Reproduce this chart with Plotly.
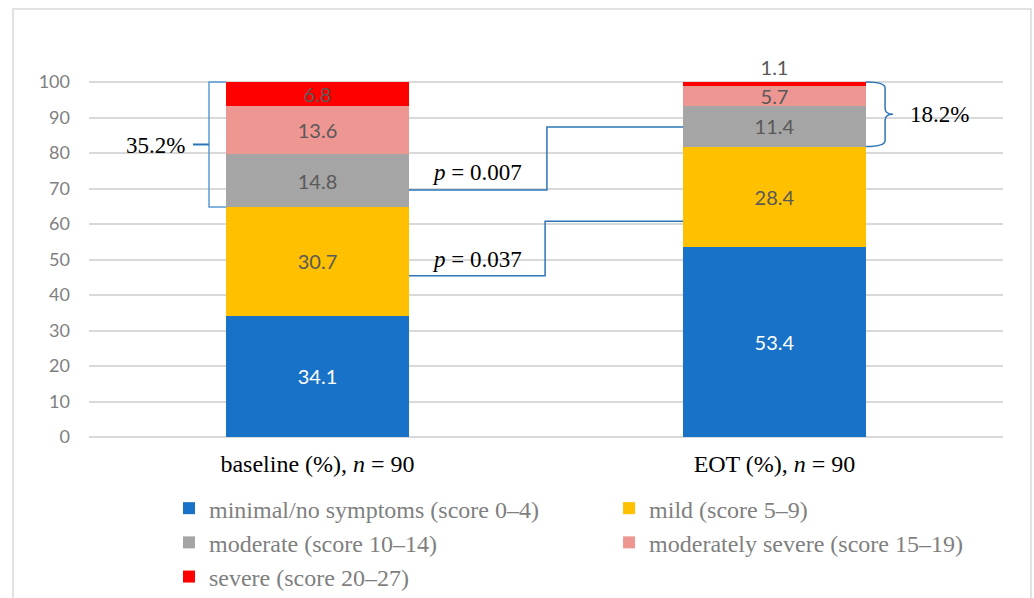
import plotly.graph_objects as go

# PHQ-9 severity distribution at baseline and end of treatment (EOT)
categories = ["baseline (%), <i>n</i> = 90", "EOT (%), <i>n</i> = 90"]
severity_labels = [
    "minimal/no symptoms (score 0–4)",
    "mild (score 5–9)",
    "moderate (score 10–14)",
    "moderately severe (score 15–19)",
    "severe (score 20–27)",
]
minimal = [34.1, 53.4]
mild = [30.7, 28.4]
moderate = [14.8, 11.4]
mod_severe = [13.6, 5.7]
severe = [6.8, 1.1]

bracket_pct = ["35.2%", "18.2%"]
p_values = ["0.007", "0.037"]

colors = ["#1872C8", "#FFC000", "#A5A5A5", "#EE9692", "#FF0000"]
label_colors = ["#FFFFFF", "#595959", "#595959", "#595959", "#595959"]
legend_ids = ["legend", "legend2", "legend", "legend2", "legend"]

SERIF = "Liberation Serif"
SANS = "Lato"

x = [0, 1]
series = [minimal, mild, moderate, mod_severe, severe]

fig = go.Figure()
for i, (name, vals) in enumerate(zip(severity_labels, series)):
    if i == len(series) - 1:
        # thin top segment gets its label above the bar
        positions = ["inside" if v >= 3 else "outside" for v in vals]
    else:
        positions = "inside"
    fig.add_trace(go.Bar(
        x=x, y=vals, name=name,
        width=0.4,
        marker=dict(color=colors[i], line=dict(width=0)),
        text=[f"{v:.1f}" for v in vals],
        textposition=positions,
        insidetextanchor="middle",
        textfont=dict(family=SANS, size=20, color=label_colors[i]),
        outsidetextfont=dict(family=SANS, size=20, color=label_colors[i]),
        cliponaxis=False,
        legend=legend_ids[i],
        legendgroup=name,
        hoverinfo="skip",
    ))

# bracket geometry derived from the stacked values
base_low = minimal[0] + mild[0]          # bottom of the upper three segments (baseline)
eot_low = minimal[1] + mild[1]           # bottom of the upper three segments (EOT)
base_mid = (base_low + 100) / 2
eot_mid = (eot_low + 100) / 2

shapes = []
# outer frame
shapes.append(dict(type="rect", xref="paper", yref="paper",
                   x0=-0.0832, x1=1.0306, y0=-0.46, y1=1.1878,
                   line=dict(color="#D9D9D9", width=1.5), layer="below"))

# square bracket on the baseline bar
bl = -0.2374
shapes.append(dict(type="path", xref="x", yref="y",
                   path=f"M -0.2,100 L {bl},100 L {bl},{base_low} L -0.2,{base_low}",
                   line=dict(color="#5B9BD5", width=1.5)))
shapes.append(dict(type="line", xref="x", yref="y",
                   x0=-0.2724, x1=bl, y0=base_mid, y1=base_mid,
                   line=dict(color="#2E75B6", width=2)))

# curly brace on the EOT bar
bx0, bx1, btip = 1.2, 1.242, 1.2593
brace = (f"M {bx0},100 Q {bx1},100 {bx1},98.3 L {bx1},{eot_mid + 1.7} "
         f"Q {bx1},{eot_mid} {btip},{eot_mid} Q {bx1},{eot_mid} {bx1},{eot_mid - 1.7} "
         f"L {bx1},{eot_low + 1.7} Q {bx1},{eot_low} {bx0},{eot_low}")
shapes.append(dict(type="path", xref="x", yref="y", path=brace,
                   line=dict(color="#2E75B6", width=1.5)))

# step connectors between bars for the p-values
steps = [(69.6, 87.3, 0.502), (45.4, 60.8, 0.498)]
for y_left, y_right, xm in steps:
    shapes.append(dict(type="path", xref="x", yref="y",
                       path=f"M 0.2,{y_left} L {xm},{y_left} L {xm},{y_right} L 0.8,{y_right}",
                       line=dict(color="#2E75B6", width=1.5)))

annotations = [
    dict(x=-0.2856, y=base_mid - 0.4, xref="x", yref="y", text=bracket_pct[0],
         showarrow=False, xanchor="right", yanchor="middle",
         font=dict(family=SERIF, size=23, color="#000000")),
    dict(x=1.292, y=eot_mid, xref="x", yref="y", text=bracket_pct[1],
         showarrow=False, xanchor="left", yanchor="middle",
         font=dict(family=SERIF, size=23, color="#000000")),
    dict(x=0.246, y=74.6, xref="x", yref="y", text=f"<i>p</i> = {p_values[0]}",
         showarrow=False, xanchor="left", yanchor="middle",
         font=dict(family=SERIF, size=23, color="#000000")),
    dict(x=0.246, y=50.1, xref="x", yref="y", text=f"<i>p</i> = {p_values[1]}",
         showarrow=False, xanchor="left", yanchor="middle",
         font=dict(family=SERIF, size=23, color="#000000")),
]

legend_common = dict(
    orientation="v", traceorder="normal", yanchor="top", xanchor="left",
    font=dict(family=SERIF, size=24, color="#7F7F7F"),
    bgcolor="rgba(0,0,0,0)", tracegroupgap=0, itemclick=False,
)

fig.update_layout(
    barmode="stack",
    width=1034, height=598,
    margin=dict(l=89, r=31, t=77, b=159, pad=0, autoexpand=False),
    paper_bgcolor="white", plot_bgcolor="white",
    shapes=shapes,
    annotations=annotations,
    uniformtext=dict(minsize=20, mode="show"),
    showlegend=True,
    legend=dict(x=0.0875, y=-0.13, **legend_common),
    legend2=dict(x=0.569, y=-0.13, **legend_common),
    xaxis=dict(
        range=[-0.5, 1.5], tickmode="array", tickvals=x, ticktext=categories,
        showgrid=False, zeroline=False, showline=False, ticks="",
        tickfont=dict(family=SERIF, size=24, color="#000000"),
        ticklabelstandoff=8, fixedrange=True,
    ),
    yaxis=dict(
        range=[-0.563, 101.408], tickmode="array", tickvals=list(range(0, 101, 10)),
        showgrid=True, gridcolor="#D9D9D9", gridwidth=1.5,
        zeroline=False, showline=False, ticks="",
        tickfont=dict(family=SANS, size=18, color="#808080"),
        ticklabelstandoff=18, fixedrange=True,
    ),
)

fig.write_html("out.html")
